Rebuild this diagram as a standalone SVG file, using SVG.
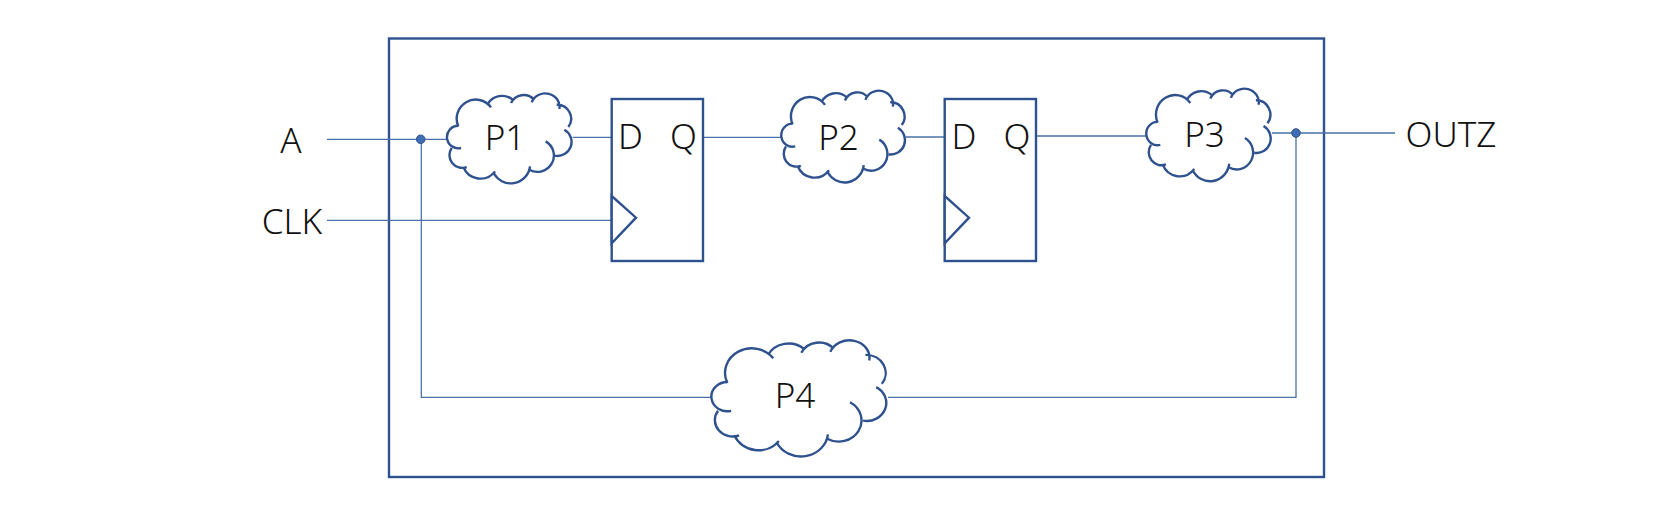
<svg xmlns="http://www.w3.org/2000/svg" width="1670" height="511" viewBox="0 0 1670 511">
<style>
text{font-family:"Noto Sans","Open Sans",sans-serif;font-size:35px;fill:#111;text-anchor:middle;font-weight:300}
.o{fill:#fff;stroke:#2f528f;stroke-width:2.4}
.c{fill:#fff;stroke:#2f528f;stroke-width:2.4;vector-effect:non-scaling-stroke}
.w{stroke:#4a72a8;stroke-width:1.3;fill:none}
.d{fill:#3e6db5;stroke:#2f528f}
</style>
<defs>
<g id="cloud">
<path fill="#fff" stroke="none" d="M235 168L215 235L260 292L345 305L450 295L525 258L578 200L565 172L530 105L455 98L393 100L325 105Z"/>
<path class="c" fill-rule="nonzero" d="M215 235A38 38 0 0 0 260 292M250 292A55 55 0 0 0 345 305M340 308A58 58 0 0 0 450 290M525 258A42 42 0 0 0 553 180M565 172A42 42 0 0 0 530 105M538 118A43 40 0 0 0 455 98M462 90A42 42 0 0 0 393 100M398 90A50 50 0 0 0 322 105M333 113A57 57 0 0 0 235 170"/>
<path class="c" d="M243 235A34 34 0 1 1 235 168M448 300A47 47 0 1 0 497 215" style="fill:none"/>
</g>
</defs>
<rect id="box" class="o" x="389" y="38.5" width="935" height="438.5"/>
<g id="connectors" class="w">
<path class="w" d="M327 139.3H447M421.3 139.3V397.3H712M888 397.3H1296V133M1272 133H1395M572.7 137.3H611.7M327 220.3H611.7M703 137.3H781M906 137H945M1036 136H1146"/>
</g>
<g id="dot-a"><circle class="d" cx="420.7" cy="139.3" r="4.3"/></g>
<g id="dot-z"><circle class="d" cx="1296" cy="133" r="4.3"/></g>
<g id="p1"><use href="#cloud" transform="translate(446.7 94.7) scale(.3333) translate(-200 -75)"/><text x="505" y="150">P1</text></g>
<g id="p2"><use href="#cloud" transform="translate(781 92) scale(.331 .34) translate(-200 -75)"/><text x="838.5" y="150">P2</text></g>
<g id="p3"><use href="#cloud" transform="translate(1146 90) scale(.333 .343) translate(-200 -75)"/><text x="1204.5" y="147">P3</text></g>
<g id="p4"><use href="#cloud" transform="translate(711 342) scale(.468 .43) translate(-200 -75)"/><text x="795" y="408">P4</text></g>
<g id="ff1"><rect class="o" x="611.7" y="99" width="91.3" height="162"/><path class="o" d="M611.7 196L636 217.7L611.7 243.3Z"/><text x="630.5" y="149">D</text><text x="683.5" y="149">Q</text></g>
<g id="ff2"><rect class="o" x="944.7" y="99" width="91.3" height="162"/><path class="o" d="M944.7 196L969 217.7L944.7 243.3Z"/><text x="964" y="149">D</text><text x="1017" y="149">Q</text></g>
<g id="labels"><text x="291" y="153">A</text><text x="292" y="234">CLK</text><text x="1451" y="147">OUTZ</text></g>
</svg>
